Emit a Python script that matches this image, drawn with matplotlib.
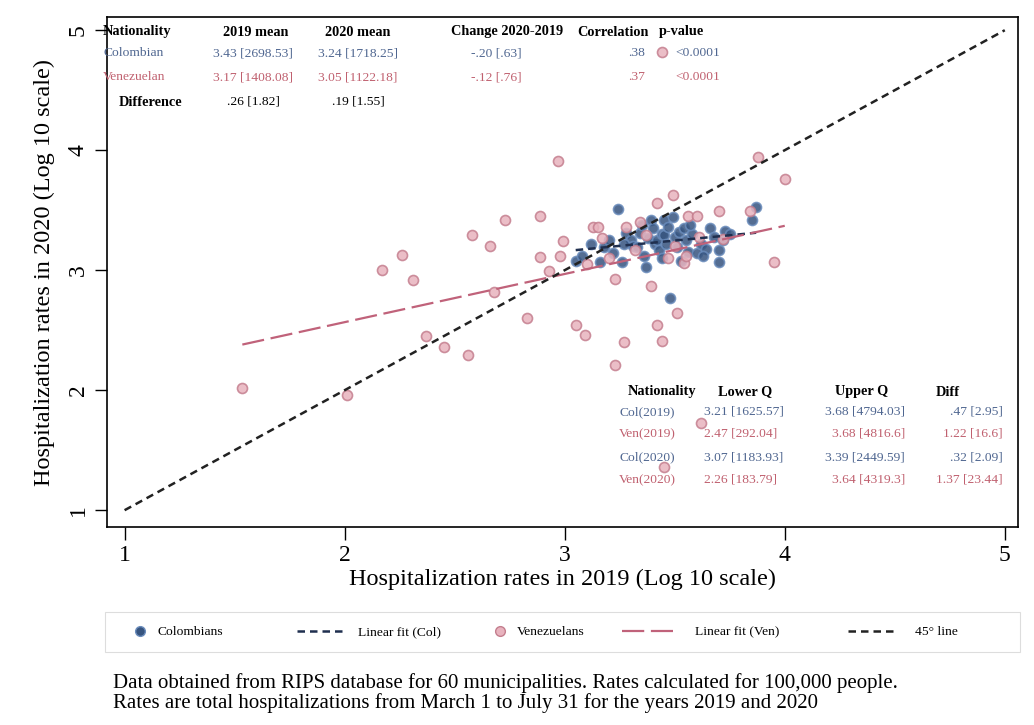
import matplotlib
matplotlib.use('Agg')
import matplotlib.pyplot as plt
from matplotlib.lines import Line2D
from matplotlib.patches import Rectangle
import numpy as np

plt.rcParams['font.family'] = ['Liberation Serif', 'DejaVu Serif']

# log10 hospitalization rates, 2019 vs 2020
col_2019 = [3.05, 3.08, 3.12, 3.16, 3.18, 3.20, 3.24, 3.26, 3.28, 3.30, 3.31, 3.33, 3.34, 3.35,
            3.37, 3.38, 3.39, 3.40, 3.41, 3.42, 3.43, 3.44, 3.45, 3.45, 3.46, 3.47, 3.48, 3.49,
            3.50, 3.51, 3.52, 3.54, 3.55, 3.56, 3.58, 3.60, 3.62, 3.64, 3.66, 3.68, 3.70, 3.70,
            3.72, 3.73, 3.75, 3.85, 3.87, 3.22, 3.27, 3.36, 3.44, 3.53, 3.57, 3.63]
col_2020 = [3.08, 3.12, 3.22, 3.07, 3.19, 3.25, 3.51, 3.07, 3.31, 3.25, 3.20, 3.19, 3.31, 3.38,
            3.03, 3.27, 3.42, 3.35, 3.22, 3.25, 3.17, 3.30, 3.42, 3.29, 3.22, 3.36, 2.77, 3.44,
            3.28, 3.19, 3.32, 3.35, 3.25, 3.15, 3.30, 3.14, 3.22, 3.18, 3.35, 3.28, 3.07, 3.17,
            3.25, 3.33, 3.30, 3.42, 3.53, 3.14, 3.22, 3.12, 3.10, 3.08, 3.38, 3.12]

ven_2019 = [1.535, 2.01, 2.17, 2.26, 2.31, 2.37, 2.45, 2.56, 2.58, 2.66, 2.68, 2.73, 2.83, 2.89,
            2.89, 2.93, 2.97, 2.99, 2.98, 3.05, 3.09, 3.13, 3.15, 3.17, 3.23, 3.23, 3.27, 3.42,
            3.44, 3.51, 3.39, 3.47, 3.54, 3.55, 3.34, 3.42, 3.49, 3.56, 3.60, 3.70, 3.84, 3.88,
            4.00, 3.95, 3.62, 3.45, 3.44, 3.37, 3.32, 3.61, 3.72, 3.20, 3.28, 3.50, 3.10]
ven_2020 = [2.02, 1.96, 3.00, 3.13, 2.92, 2.45, 2.36, 2.29, 3.29, 3.20, 2.82, 3.42, 2.60, 3.45,
            3.11, 2.99, 3.91, 3.24, 3.12, 2.54, 2.46, 3.36, 3.36, 3.27, 2.93, 2.21, 2.40, 2.54,
            2.41, 2.64, 2.87, 3.10, 3.06, 3.12, 3.40, 3.56, 3.63, 3.45, 3.45, 3.49, 3.49, 3.94,
            3.76, 3.07, 1.73, 1.36, 4.82, 3.29, 3.17, 3.28, 3.26, 3.10, 3.36, 3.20, 3.05]

top_header = ['2019 mean', '2020 mean', 'Change 2020-2019', 'Correlation', 'p-value']
top_col = ['3.43 [2698.53]', '3.24 [1718.25]', '-.20 [.63]', '.38', '<0.0001']
top_ven = ['3.17 [1408.08]', '3.05 [1122.18]', '-.12 [.76]', '.37', '<0.0001']
top_diff = ['.26 [1.82]', '.19 [1.55]']

q_header = ['Nationality', 'Lower Q', 'Upper Q', 'Diff']
q_rows = [['Col(2019)', '3.21 [1625.57]', '3.68 [4794.03]', '.47 [2.95]'],
          ['Ven(2019)', '2.47 [292.04]', '3.68 [4816.6]', '1.22 [16.6]'],
          ['Col(2020)', '3.07 [1183.93]', '3.39 [2449.59]', '.32 [2.09]'],
          ['Ven(2020)', '2.26 [183.79]', '3.64 [4319.3]', '1.37 [23.44]']]

c_col = '#36547f'
c_col_edge = '#6a8cbc'
c_ven = '#e8b3be'
c_ven_edge = '#c47e8e'
c_col_txt = '#4f6690'
c_ven_txt = '#c0606f'
c_ven_line = '#c0627a'

fig = plt.figure(figsize=(10.34, 7.25), dpi=100)
ax = fig.add_axes([107 / 1034, (725 - 527) / 725, 911 / 1034, 510 / 725])

ax.scatter(col_2019, col_2020, s=52, facecolor=c_col, edgecolor=c_col_edge, linewidth=1.2,
           alpha=0.85, zorder=3)
ax.scatter(ven_2019, ven_2020, s=52, facecolor=c_ven, edgecolor=c_ven_edge, linewidth=1.2,
           alpha=0.85, zorder=3)

# linear fits
b_col = np.polyfit(col_2019, col_2020, 1)
xs = np.array([min(col_2019), max(col_2019)])
ax.plot(xs, np.polyval(b_col, xs), color='#1f2f4f', lw=1.8, dashes=(3, 2), zorder=4)
b_ven = np.polyfit(ven_2019, ven_2020, 1)
xs = np.array([min(ven_2019), max(ven_2019)])
ax.plot(xs, np.polyval(b_ven, xs), color=c_ven_line, lw=1.6, dashes=(10, 3), zorder=4)
ax.plot([1, 5], [1, 5], color='#222222', lw=1.8, dashes=(3, 2), zorder=4)

ax.set_xlim(0.92, 5.06)
ax.set_ylim(0.86, 5.11)
ax.set_xticks([1, 2, 3, 4, 5])
ax.set_yticks([1, 2, 3, 4, 5])
ax.tick_params(direction='out', length=9, width=1, labelsize=17, pad=4)
for lab in ax.get_yticklabels():
    lab.set_rotation(90)
    lab.set_va('center')
for sp in ax.spines.values():
    sp.set_linewidth(1.2)
ax.set_xlabel('Hospitalization rates in 2019 (Log 10 scale)', fontsize=17.5, labelpad=2)
ax.set_ylabel('Hospitalization rates in 2020 (Log 10 scale)', fontsize=17.5, labelpad=9)


def px(x):
    return (x - 107) / 911


def py(y):
    return (527 - y) / 510


fs = 9.7
hfs = 10.3
tkw = dict(transform=ax.transAxes, va='center', clip_on=False, zorder=5)

# top table
rows_y = [py(32), py(53), py(77), py(102)]
ax.text(px(103), rows_y[0], 'Nationality', ha='left', weight='bold', fontsize=hfs, **tkw)
ax.text(px(103), rows_y[1], 'Colombian', ha='left', color=c_col_txt, fontsize=fs, **tkw)
ax.text(px(103), rows_y[2], 'Venezuelan', ha='left', color=c_ven_txt, fontsize=fs, **tkw)
ax.text(px(119), rows_y[3], 'Difference', ha='left', weight='bold', fontsize=hfs, **tkw)
head_x = [256, 358, 507, 613, 681]
val_x = [253, 358, 522, 645, 720]
val_ha = ['center', 'center', 'right', 'right', 'right']
for i, h in enumerate(top_header):
    ax.text(px(head_x[i]), rows_y[0], h, ha='center', weight='bold', fontsize=hfs, **tkw)
    ax.text(px(val_x[i]), rows_y[1], top_col[i], ha=val_ha[i], color=c_col_txt, fontsize=fs, **tkw)
    ax.text(px(val_x[i]), rows_y[2], top_ven[i], ha=val_ha[i], color=c_ven_txt, fontsize=fs, **tkw)
for i, d in enumerate(top_diff):
    ax.text(px(val_x[i]), rows_y[3], d, ha='center', fontsize=fs, **tkw)

# quartile table
q_y = [py(392), py(412), py(434), py(457), py(480)]
q_head_x = [662, 745, 862, 948]
for i, h in enumerate(q_header):
    ax.text(px(q_head_x[i]), q_y[0], h, ha='center', weight='bold', fontsize=hfs, **tkw)
for r, row in enumerate(q_rows):
    c = c_col_txt if row[0].startswith('Col') else c_ven_txt
    ax.text(px(619), q_y[r + 1], row[0], ha='left', color=c, fontsize=fs, **tkw)
    ax.text(px(704), q_y[r + 1], row[1], ha='left', color=c, fontsize=fs, **tkw)
    ax.text(px(905), q_y[r + 1], row[2], ha='right', color=c, fontsize=fs, **tkw)
    ax.text(px(1003), q_y[r + 1], row[3], ha='right', color=c, fontsize=fs, **tkw)

# legend: one single-entry legend per key so the spacing follows the original
fig.patches.append(Rectangle((105 / 1034, (725 - 652) / 725), 915 / 1034, 40 / 725,
                             transform=fig.transFigure, facecolor='white',
                             edgecolor='#dddddd', lw=0.8))
handles = [
    Line2D([], [], ls='none', marker='o', ms=7, mfc=c_col, mec=c_col_edge),
    Line2D([], [], color='#1f2f4f', lw=1.8, dashes=(3, 2)),
    Line2D([], [], ls='none', marker='o', ms=7, mfc=c_ven, mec=c_ven_edge),
    Line2D([], [], color=c_ven_line, lw=1.6, dashes=(10, 3)),
    Line2D([], [], color='#222222', lw=1.8, dashes=(3, 2)),
]
labels = ['Colombians', 'Linear fit (Col)', 'Venezuelans', 'Linear fit (Ven)', '45° line']
leg_start = [133, 297, 493, 622, 848]
leg_hlen = [1.0, 3.55, 1.0, 3.75, 3.7]
leg_pad = [0.8, 0.95, 0.8, 1.7, 1.25]
for h, lab, x0, hl, tp in zip(handles, labels, leg_start, leg_hlen, leg_pad):
    fig.legend([h], [lab], loc='center left', fontsize=9.7,
               bbox_to_anchor=(x0 / 1034, (725 - 632) / 725), frameon=False,
               borderpad=0, borderaxespad=0, handlelength=hl, handletextpad=tp)

fig.text(113 / 1034, (725 - 683) / 725,
         'Data obtained from RIPS database for 60 municipalities. Rates calculated for 100,000 people.',
         fontsize=15, va='center')
fig.text(113 / 1034, (725 - 703) / 725,
         'Rates are total hospitalizations from March 1 to July 31 for the years 2019 and 2020',
         fontsize=15, va='center')

fig.savefig('out.png', dpi=100)
